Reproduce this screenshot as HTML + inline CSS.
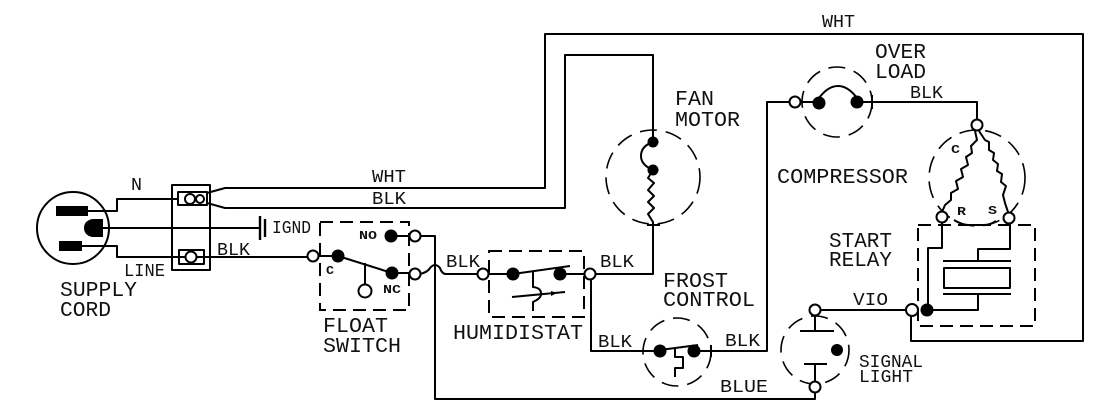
<!DOCTYPE html>
<html><head><meta charset="utf-8"><style>
html,body{margin:0;padding:0;background:#fff}
svg{display:block}
text{font-family:"Liberation Mono",monospace;fill:#111;stroke:none}
.w{fill:none;stroke:#000;stroke-width:2;stroke-linejoin:round}
.t{fill:#fff;stroke:#000;stroke-width:2}
.d{fill:none;stroke:#000;stroke-width:2;stroke-dasharray:13 7}
.c{fill:none;stroke:#000;stroke-width:1.6;stroke-dasharray:17 9}
.l{font-size:21px}
.m{font-size:18px}
.s{font-size:12px;font-weight:bold}
</style></head><body>
<svg width="1100" height="406" viewBox="0 0 1100 406" xmlns="http://www.w3.org/2000/svg">
<!-- plug -->
<circle class="w" cx="73" cy="228" r="36"/>
<rect x="56" y="206" width="32" height="10" fill="#000"/>
<path d="M103 219H92Q84 221 84 228Q84 235 92 237H103Z" fill="#000"/>
<rect x="59" y="241" width="23" height="10" fill="#000"/>
<path class="w" d="M88 211H117V199H172M82 246H117V257H313M103 228H260"/>
<!-- block -->
<rect class="w" x="172" y="185" width="38" height="85"/>
<rect class="w" x="178" y="192" width="29" height="13"/>
<circle class="t" cx="190" cy="199" r="5"/><circle class="t" cx="200" cy="199" r="4"/>
<rect class="w" x="179" y="250" width="25" height="14"/>
<circle class="t" cx="191" cy="257" r="5.5"/>
<path class="w" d="M172 199H178M172 257H179M204 257H210"/>
<!-- top wires -->
<path class="w" d="M207 193L225 188H545V34H1083V341H911V316"/>
<path class="w" d="M207 203L225 208H565V55H653V137"/>
<path d="M260 216V240" stroke="#000" stroke-width="2.4"/>
<path d="M265 219V237" stroke="#000" stroke-width="2.4"/>
<!-- fan motor -->
<circle class="c" cx="653" cy="177" r="47"/>
<circle cx="653" cy="142" r="5.5" fill="#000"/><circle cx="653" cy="170" r="5.5" fill="#000"/>
<path class="w" d="M653 142Q641 146 641 156Q641 165 653 170" stroke-width="1.6"/>
<path class="w" stroke-width="1.7" d="M653 170L648 178L654 183L648 190L654 196L648 202L654 208L648 214L653 222V274H596"/>
<path class="w" d="M647 225H660"/>
<!-- float switch -->
<rect class="d" x="320" y="222" width="89" height="88"/>
<circle class="t" cx="313" cy="256" r="5.5"/>
<circle cx="338" cy="256" r="6.5" fill="#000"/>
<path class="w" d="M318 256H338L392 273M365 263V285M392 236H410M392 273H410"/>
<circle cx="391" cy="236" r="6.5" fill="#000"/><circle cx="392" cy="273" r="6.5" fill="#000"/>
<circle class="t" cx="365" cy="291" r="6.5"/>
<circle class="t" cx="415" cy="236" r="5.5"/><circle class="t" cx="415" cy="274" r="5.5"/>
<path class="w" d="M420 236H435V399H815V392"/>
<path class="w" d="M420 274Q428 272 430 268Q435 262 440 268Q442 274 446 274H478"/>
<circle class="t" cx="483" cy="274" r="5.5"/>
<!-- humidistat -->
<rect class="d" x="489" y="251" width="95" height="66"/>
<circle cx="513" cy="274" r="6.5" fill="#000"/><circle cx="560" cy="274" r="6.5" fill="#000"/>
<path class="w" d="M488 274H513L570 266M560 274H585"/>
<path class="w" d="M533 272V287Q542 288 541 295Q540 299 533 302V311" stroke-width="1.6"/>
<path class="w" d="M512 297L565 292"/>
<path d="M551 291l6 2l-6 3z" fill="#000"/>
<circle class="t" cx="590" cy="274" r="5.5"/>
<path class="w" d="M591 280V351H660"/>
<!-- frost control -->
<circle class="c" cx="677" cy="352" r="34"/>
<circle cx="660" cy="351" r="6.5" fill="#000"/><circle cx="694" cy="351" r="6.5" fill="#000"/>
<path class="w" d="M660 350L698 345M694 351H767V102H790M711 345V357"/>
<path class="w" d="M675 348V357H683V368H675V377" stroke-width="1.6"/>
<!-- overload -->
<circle class="c" cx="837" cy="102" r="35"/>
<circle class="t" cx="795" cy="102" r="5.5"/>
<circle cx="819" cy="103" r="6.5" fill="#000"/><circle cx="857" cy="102" r="6.5" fill="#000"/>
<path class="w" d="M801 102H819M857 102H977V120M819 98Q828 86 838 86Q848 86 857 98M872 95V109"/>
<!-- compressor -->
<circle class="c" cx="977" cy="178" r="48"/>
<circle class="t" cx="977" cy="125" r="5.5"/>
<path class="w" stroke-width="1.6" d="M975 131L977 140L971 146L972 153L966 157L968 165L961 169L963 177L956 181L958 189L951 193L951 200L945 205L942 212"/>
<path class="w" stroke-width="1.6" d="M979 131L985 140L989 142L989 150L994 153L993 160L998 164L997 171L1002 174L1001 182L1006 186L1003 195L1005 203L1008 212"/>
<circle class="t" cx="942" cy="217" r="5.5"/><circle class="t" cx="1009" cy="218" r="5.5"/>
<!-- start relay -->
<path class="w" d="M954 220q8 5 14 5h16q6 0 12 -4" stroke-width="1.6"/>
<rect class="d" x="918" y="225" width="117" height="101"/>
<path class="w" d="M942 223V248H928V310H978V295M1010 224V249H978V261"/>
<path class="w" d="M943 261H1011M943 294H1011"/>
<rect class="w" x="944" y="268" width="66" height="20"/>
<circle cx="927" cy="310" r="6.5" fill="#000"/>
<!-- signal light -->
<circle class="c" cx="815" cy="350" r="34"/>
<path class="w" d="M815 310H906M815 316V331M800 331H834M804 364H827M815 364V382"/>
<circle cx="837" cy="350" r="6" fill="#000"/>
<circle class="t" cx="815" cy="310" r="5.5"/><circle class="t" cx="815" cy="387" r="5.5"/>
<circle class="t" cx="912" cy="310" r="6"/>
<path class="w" d="M911 316V341"/>
<!-- labels -->
<g class="m">
<text x="822" y="27" textLength="33" lengthAdjust="spacingAndGlyphs">WHT</text>
<text x="910" y="98" textLength="33" lengthAdjust="spacingAndGlyphs">BLK</text>
<text x="372" y="182" textLength="34" lengthAdjust="spacingAndGlyphs">WHT</text>
<text x="372" y="204" textLength="34" lengthAdjust="spacingAndGlyphs">BLK</text>
<text x="217" y="255" textLength="33" lengthAdjust="spacingAndGlyphs">BLK</text>
<text x="446" y="267" textLength="34" lengthAdjust="spacingAndGlyphs">BLK</text>
<text x="600" y="267" textLength="34" lengthAdjust="spacingAndGlyphs">BLK</text>
<text x="598" y="347" textLength="34" lengthAdjust="spacingAndGlyphs">BLK</text>
<text x="725" y="346" textLength="35" lengthAdjust="spacingAndGlyphs">BLK</text>
<text x="853" y="305" textLength="35" lengthAdjust="spacingAndGlyphs">VIO</text>
<text x="720" y="392" textLength="48" lengthAdjust="spacingAndGlyphs">BLUE</text>
<text x="131" y="190" textLength="11" lengthAdjust="spacingAndGlyphs">N</text>
<text x="124" y="276" textLength="41" lengthAdjust="spacingAndGlyphs">LINE</text>
<text x="859" y="367" textLength="64" lengthAdjust="spacingAndGlyphs">SIGNAL</text>
<text x="859" y="382" textLength="54" lengthAdjust="spacingAndGlyphs">LIGHT</text>
<text x="272" y="233" textLength="39" lengthAdjust="spacingAndGlyphs">IGND</text>
</g>
<g class="l">
<text x="875" y="58" textLength="51" lengthAdjust="spacingAndGlyphs">OVER</text>
<text x="875" y="78" textLength="51" lengthAdjust="spacingAndGlyphs">LOAD</text>
<text x="675" y="105" textLength="39" lengthAdjust="spacingAndGlyphs">FAN</text>
<text x="675" y="126" textLength="65" lengthAdjust="spacingAndGlyphs">MOTOR</text>
<text x="777" y="183" textLength="131" lengthAdjust="spacingAndGlyphs">COMPRESSOR</text>
<text x="829" y="247" textLength="63" lengthAdjust="spacingAndGlyphs">START</text>
<text x="829" y="266" textLength="63" lengthAdjust="spacingAndGlyphs">RELAY</text>
<text x="663" y="287" textLength="65" lengthAdjust="spacingAndGlyphs">FROST</text>
<text x="663" y="306" textLength="92" lengthAdjust="spacingAndGlyphs">CONTROL</text>
<text x="453" y="339" textLength="130" lengthAdjust="spacingAndGlyphs">HUMIDISTAT</text>
<text x="323" y="332" textLength="65" lengthAdjust="spacingAndGlyphs">FLOAT</text>
<text x="323" y="352" textLength="78" lengthAdjust="spacingAndGlyphs">SWITCH</text>
<text x="60" y="296" textLength="77" lengthAdjust="spacingAndGlyphs">SUPPLY</text>
<text x="60" y="316" textLength="51" lengthAdjust="spacingAndGlyphs">CORD</text>
</g>
<g class="s">
<text x="951" y="153" textLength="9" lengthAdjust="spacingAndGlyphs">C</text>
<text x="957" y="215" textLength="9" lengthAdjust="spacingAndGlyphs">R</text>
<text x="988" y="214" textLength="9" lengthAdjust="spacingAndGlyphs">S</text>
<text x="326" y="274" textLength="8" lengthAdjust="spacingAndGlyphs">C</text>
<text x="359" y="239" textLength="18" lengthAdjust="spacingAndGlyphs">NO</text>
<text x="383" y="293" textLength="18" lengthAdjust="spacingAndGlyphs">NC</text>
</g>
</svg>
</body></html>
